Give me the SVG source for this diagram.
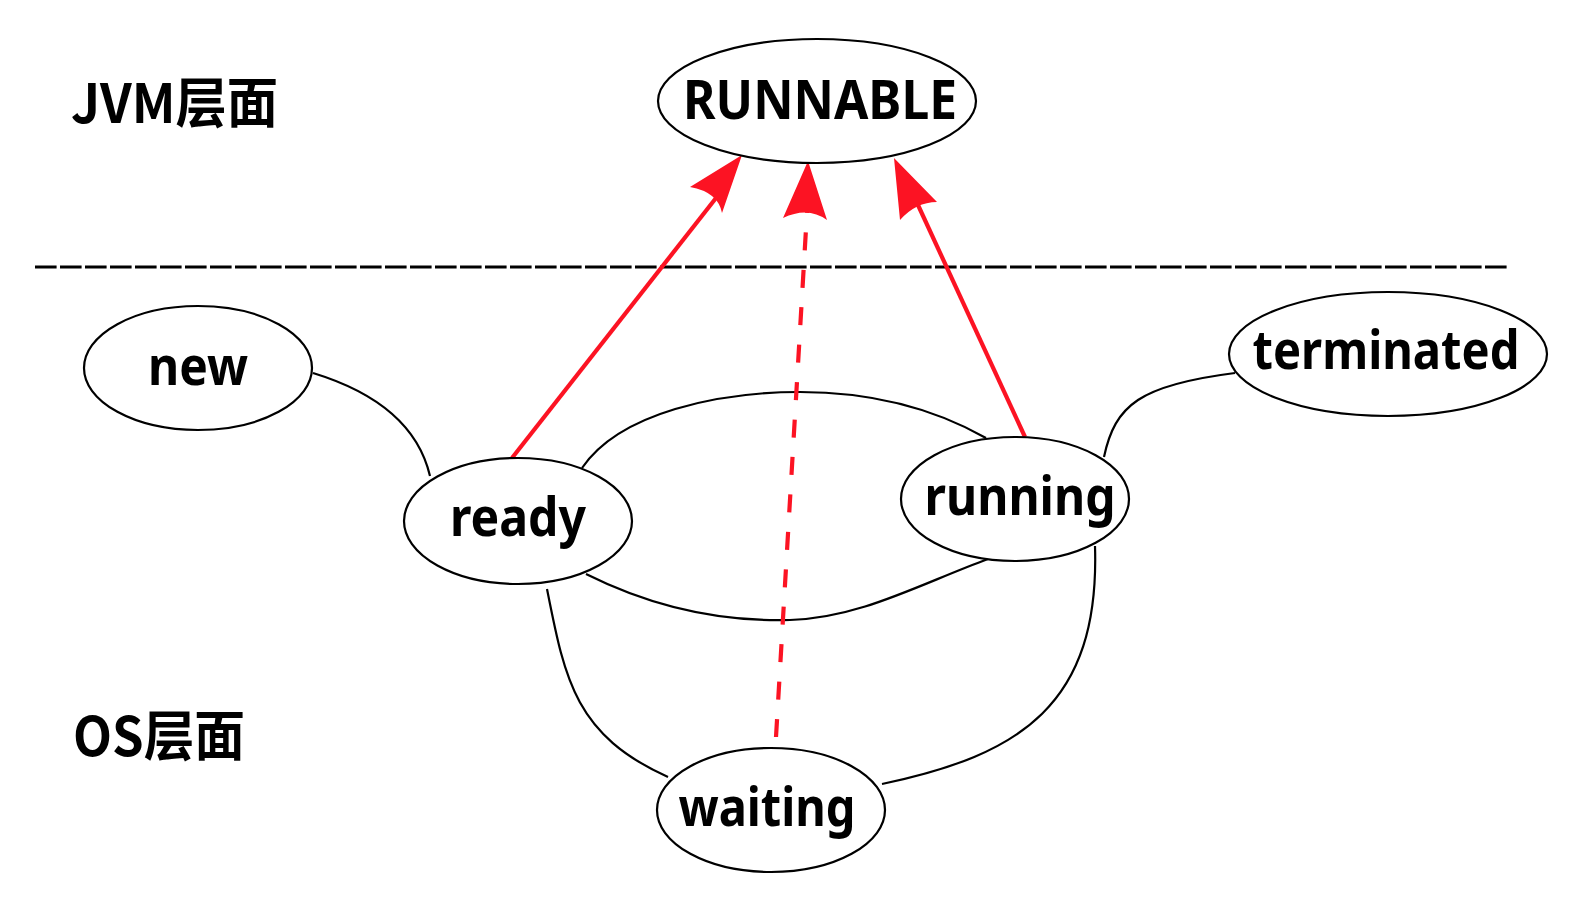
<svg xmlns="http://www.w3.org/2000/svg" width="1586" height="914" viewBox="0 0 1586 914">
<style>
.node ellipse{fill:#ffffff;stroke:#000000;stroke-width:2.2}
.lbl{font-family:"Noto Sans","Noto Sans CJK SC",sans-serif;font-weight:bold;font-size:54px;fill:#000000;text-anchor:middle}
.layer{font-family:"Noto Sans CJK SC","Noto Sans",sans-serif;font-weight:bold;font-size:54px;fill:#000000}
.link{fill:none;stroke:#000000;stroke-width:2.2}
.red{fill:none;stroke:#fc1323;stroke-width:4.2}
.head{fill:#fc1323;stroke:none}
</style>
<rect x="0" y="0" width="1586" height="914" fill="#ffffff"/>
<text class="layer" x="71" y="123" textLength="207" lengthAdjust="spacingAndGlyphs">JVM层面</text>
<text class="layer" x="73" y="756" textLength="172" lengthAdjust="spacingAndGlyphs">OS层面</text>
<line x1="35" y1="267" x2="1507" y2="267" stroke="#000000" stroke-width="3" stroke-dasharray="21.6 3.4"/>
<g id="connectors">
<path class="link" d="M313,373 C375,392 418,425 430,476"/>
<path class="link" d="M582,468 C620,412 720,392 800,392 C880,392 940,412 986,438"/>
<path class="link" d="M586,574 C650,606 720,622 790,620 C860,618 920,584 988,559"/>
<path class="link" d="M547,589 C565,680 575,735 668,777"/>
<path class="link" d="M1095,546 C1100,705 1020,755 882,784"/>
<path class="link" d="M1235,373 C1140,385 1115,405 1104,457"/>
<line class="red" x1="512" y1="458" x2="716" y2="198"/>
<path class="head" d="M742,155 L690,187 Q718,192 722,213 Z"/>
<line class="red" x1="776" y1="737" x2="807" y2="212" stroke-dasharray="18 19.5"/>
<path class="head" d="M808,161 L783,218 Q808,206 827,220 Z"/>
<line class="red" x1="1025" y1="437" x2="918" y2="205"/>
<path class="head" d="M894,158 L937,202 Q916,202 900,220 Z"/>
</g>
<g id="RUNNABLE" class="node">
<ellipse cx="817" cy="101" rx="159" ry="62"/>
<text class="lbl" x="820" y="119" textLength="274" lengthAdjust="spacingAndGlyphs">RUNNABLE</text>
</g>
<g id="new" class="node">
<ellipse cx="198" cy="368" rx="114" ry="62"/>
<text class="lbl" x="198" y="385" textLength="100" lengthAdjust="spacingAndGlyphs">new</text>
</g>
<g id="ready" class="node">
<ellipse cx="518" cy="521" rx="114" ry="63"/>
<text class="lbl" x="518" y="536" textLength="136" lengthAdjust="spacingAndGlyphs">ready</text>
</g>
<g id="running" class="node">
<ellipse cx="1015" cy="499" rx="114" ry="62"/>
<text class="lbl" x="1020" y="515" textLength="191" lengthAdjust="spacingAndGlyphs">running</text>
</g>
<g id="terminated" class="node">
<ellipse cx="1388" cy="354" rx="159" ry="62"/>
<text class="lbl" x="1386" y="369" textLength="267" lengthAdjust="spacingAndGlyphs">terminated</text>
</g>
<g id="waiting" class="node">
<ellipse cx="771" cy="810" rx="114" ry="62"/>
<text class="lbl" x="767" y="826" textLength="177" lengthAdjust="spacingAndGlyphs">waiting</text>
</g>
</svg>
